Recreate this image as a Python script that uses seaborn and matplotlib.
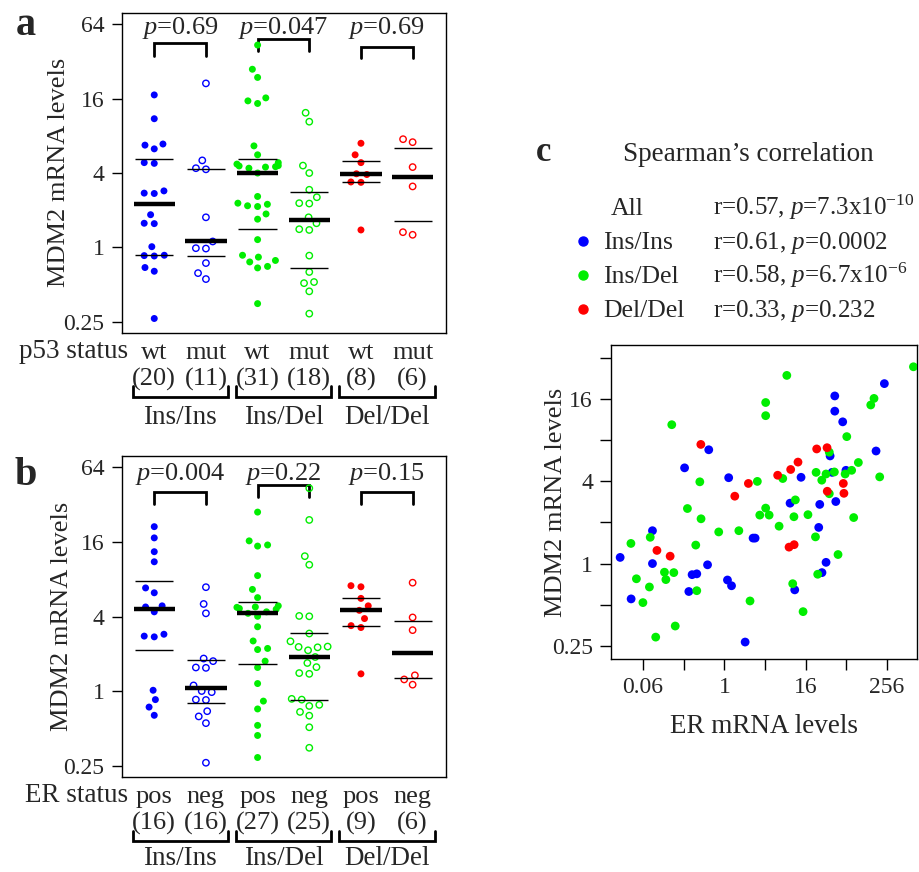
import numpy as np
import pandas as pd
import matplotlib
matplotlib.use("Agg")
import matplotlib.pyplot as plt
from matplotlib.lines import Line2D
from matplotlib.ticker import NullLocator
import seaborn as sns

# ---- panel a: MDM2 mRNA levels (log2) by genotype and p53 status ----
a_insins_wt = [4.10, 3.46, 2.78, 2.75, 2.65, 2.28, 2.26, 1.52, 1.46, 1.45,
               0.88, 0.64, 0.65, 0.02, -0.22, -0.23, -0.21, -0.54, -0.64, -1.91]
a_insins_mut = [4.41, 2.34, 2.13, 2.10, 0.81, 0.16, -0.02, -0.03, -0.42, -0.69, -0.85]
a_insdel_wt = [5.44, 4.79, 4.57, 4.02, 3.94, 3.87, 2.73, 2.49,
               2.28, 2.24, 2.19, 2.20, 2.17, 2.16, 2.13, 2.00,
               1.37, 1.19, 1.16, 1.12, 1.10, 0.90, 0.76, 0.21,
               -0.21, -0.26, -0.35, -0.39, -0.51, -0.55, -1.51]
a_insdel_mut = [3.62, 3.38, 2.20, 2.00, 1.55, 1.35, 1.19, 1.18, 0.81,
                0.65, 0.49, 0.47, -0.22, -0.66, -0.93, -0.96, -1.18, -1.78]
a_deldel_wt = [2.80, 2.49, 2.28, 1.98, 1.96, 1.75, 1.76, 0.47]
a_deldel_mut = [2.91, 2.83, 2.16, 1.64, 0.41, 0.34]
a_status = ["wt", "mut"]
a_pvalues = ["0.69", "0.047", "0.69"]

# ---- panel b: MDM2 mRNA levels (log2) by genotype and ER status ----
b_insins_pos = [4.41, 4.11, 3.74, 3.47, 2.77, 2.64, 2.29, 2.26, 2.13, 1.53,
                1.48, 1.46, 0.03, -0.22, -0.42, -0.64]
b_insins_neg = [2.79, 2.34, 2.09, 0.88, 0.81, 0.64, 0.63, 0.16, 0.01, -0.02,
                -0.22, -0.23, -0.53, -0.67, -0.85, -1.91]
b_insdel_pos = [4.80, 4.03, 3.92, 3.89, 3.10, 2.73, 2.51,
                2.29, 2.26, 2.25, 2.22, 2.20, 2.13, 2.09, 2.01,
                1.73, 1.35, 1.15, 1.12, 0.81, 0.64, 0.21, -0.26, -0.47, -0.91, -1.18, -1.77]
b_insdel_neg = [5.44, 4.59, 3.62, 3.39, 2.01, 2.02, 1.55, 1.34,
                1.19, 1.20, 1.18, 1.10, 0.92, 0.76, 0.65, 0.49, 0.47,
                -0.20, -0.22, -0.36, -0.39, -0.55, -0.65, -0.96, -1.51]
b_deldel_pos = [2.83, 2.80, 2.49, 2.29, 2.17, 1.95, 1.76, 1.71, 0.47]
b_deldel_neg = [2.91, 1.98, 1.64, 0.43, 0.32, 0.18]
b_status = ["pos", "neg"]
b_pvalues = ["0.004", "0.22", "0.15"]

# ---- panel c: ER vs MDM2 mRNA levels (log2) ----
c_insins_er = [-5.13, -4.59, -3.54, -3.54, -1.96, -1.75, -1.59, -1.36, -0.83, -0.77,
               0.15, 0.21, 0.35, 1.02, 1.41, 1.51, 3.23, 3.46, 3.77, 4.64,
               4.69, 4.80, 5.00, 5.20, 5.30, 5.43, 5.43, 5.48, 5.82, 5.98, 7.46, 7.87]
c_insins_mdm2 = [0.15, -0.86, 0.80, 0.00, 2.33, -0.68, -0.27, -0.25, -0.03, 2.77,
                 -0.40, 2.09, -0.54, -1.91, 0.62, 0.62, 1.47, -0.64, 2.10, 0.88,
                 1.44, -0.22, 0.03, 2.62, 2.22, 4.08, 3.71, 1.51, 3.45, 2.27, 2.74, 4.38]
c_insdel_er = [-4.60, -4.33, -4.01, -3.69, -3.65, -3.38, -2.95, -2.88, -2.59, -2.49,
               -2.42, -1.82, -1.41, -1.36, -1.21, -1.15, -0.28, 0.71, 1.26, 1.62,
               1.74, 2.03, 2.03, 2.03, 2.20, 2.69, 2.87, 3.07, 3.36, 3.42,
               3.49, 3.87, 4.11, 4.48, 4.51, 4.59, 4.79, 5.00, 5.16, 5.16,
               5.41, 5.59, 5.94, 6.02, 6.26, 6.36, 6.59, 7.20, 7.36, 7.64, 9.30]
c_insdel_mdm2 = [0.49, -0.37, -0.95, -0.57, 0.64, -1.79, -0.21, -0.39, 3.38, -0.22,
                 -1.52, 1.34, 0.45, -0.66, 1.99, 1.09, 0.77, 0.80, -0.91, 2.00,
                 1.18, 3.92, 3.60, 1.35, 1.18, 0.91, 2.07, 4.58, -0.49, 1.14,
                 1.55, -1.17, 1.19, 0.65, 2.22, -0.26, 2.03, 2.18, 2.71, 1.70,
                 2.23, 0.22, 2.18, 3.09, 2.27, 1.12, 2.46, 3.86, 4.02, 2.11, 4.79]
c_deldel_er = [-3.32, -2.67, -1.16, 0.51, 1.18, 2.62, 3.18, 3.43, 3.26, 3.62,
               4.54, 5.05, 5.06, 5.85, 5.88]
c_deldel_mdm2 = [0.32, 0.18, 2.90, 1.64, 1.95, 2.15, 0.40, 0.46, 2.29, 2.47,
                 2.79, 2.82, 1.76, 1.95, 1.71]
c_rows = ["All", "Ins/Ins", "Ins/Del", "Del/Del"]
c_stats = ["r=0.57, $p$=7.3x10$^{-10}$", "r=0.61, $p$=0.0002",
           "r=0.58, $p$=6.7x10$^{-6}$", "r=0.33, $p$=0.232"]

genotypes = ["Ins/Ins", "Ins/Del", "Del/Del"]
geno_colors = {"Ins/Ins": "#0000ff", "Ins/Del": "#00ee00", "Del/Del": "#ff0000"}

W, H = 919, 872
TXT = "#262626"

sns.set_style("ticks")
plt.rcParams.update({
    "font.family": ["Liberation Serif", "DejaVu Serif"],
    "mathtext.fontset": "custom",
    "mathtext.rm": "Liberation Serif",
    "mathtext.it": "Liberation Serif:italic",
    "text.color": TXT,
    "axes.edgecolor": "black",
    "axes.linewidth": 1.0,
    "xtick.color": "black",
    "ytick.color": "black",
    "xtick.labelcolor": TXT,
    "ytick.labelcolor": TXT,
})

fig = plt.figure(figsize=(W / 100, H / 100), dpi=100)
ax_a = fig.add_axes([121.7 / W, 1 - 333.0 / H, 324.0 / W, 320.3 / H])
ax_b = fig.add_axes([121.7 / W, 1 - 777.3 / H, 324.0 / W, 321.6 / H])
ax_c = fig.add_axes([611.0 / W, 1 - 659.3 / H, 306.3 / W, 314.3 / H])

positions = [1, 2, 3, 4, 5, 6]
swarms = []


def strip_panel(ax, series, status, pvals, status_title, p_text_y, brackets, ylab_x, geno_y):
    ax.set_yscale("log", base=2)
    ax.set_xlim(0.37, 6.64)
    ax.set_ylim(2 ** -2.3, 2 ** 6.31)
    for i, vals in enumerate(series):
        pos = positions[i]
        color = geno_colors[genotypes[i // 2]]
        sns.swarmplot(x=np.full(len(vals), float(pos)), y=np.exp2(vals), native_scale=True,
                      orient="x", color=color, size=6.9, linewidth=0, ax=ax, zorder=3)
        swarms.append((ax.collections[-1], color, i % 2 == 0))
        q1, med, q3 = np.quantile(vals, [0.25, 0.5, 0.75])
        ax.hlines(np.exp2(med), pos - 0.4, pos + 0.4, color="black", lw=3.2, zorder=4)
        ax.hlines(np.exp2([q1, q3]), pos - 0.37, pos + 0.37, color="black", lw=1.0, zorder=4)

    ax.set_xlim(0.37, 6.64)
    ax.set_ylim(2 ** -2.3, 2 ** 6.31)
    ax.set_xlabel("")
    ax.set_yticks([0.25, 1, 4, 16, 64], ["0.25", "1", "4", "16", "64"])
    ax.yaxis.set_minor_locator(NullLocator())
    ax.tick_params(axis="y", direction="out", length=7.5, width=1.0, pad=5, labelsize=17)
    counts = [len(v) for v in series]
    ax.set_xticks(positions, [f"{status[i % 2]}\n({n})" for i, n in enumerate(counts)])
    ax.tick_params(axis="x", length=0, pad=6.5, labelsize=19)
    for t in ax.get_xticklabels():
        t.set_linespacing(1.22)
    for s in ax.spines.values():
        s.set_visible(True)
        s.set_linewidth(1.0)
    ax.set_ylabel("MDM2 mRNA levels", fontsize=19, va="center")
    ax.yaxis.set_label_coords(ylab_x, 0.5)

    ax.text(0.02, -0.058, status_title, transform=ax.transAxes, ha="right", va="center",
            fontsize=19.5)

    trans = ax.get_xaxis_transform()
    for g in range(3):
        left, right = positions[2 * g], positions[2 * g + 1]
        # group bracket under the labels
        ax.plot([left - 0.42, left - 0.42, right + 0.43, right + 0.43],
                [-0.166, -0.199, -0.199, -0.166], transform=trans, clip_on=False,
                color="black", lw=2.0, solid_joinstyle="miter")
        ax.text((left + right) / 2, geno_y, genotypes[g], transform=trans,
                ha="center", va="center", fontsize=19.5)
        # p-value bracket
        top, leg = brackets[g]
        ax.plot([left, left, right, right], [leg, top, top, leg], transform=trans,
                color="black", lw=2.0, zorder=2, solid_joinstyle="miter")
        ax.text((left + right) / 2, p_text_y, f"$p$={pvals[g]}", transform=trans,
                ha="center", va="center", fontsize=19, zorder=5)


strip_panel(ax_a, [a_insins_wt, a_insins_mut, a_insdel_wt, a_insdel_mut, a_deldel_wt, a_deldel_mut],
            a_status, a_pvalues, "p53 status", 0.952,
            [(0.904, 0.865), (0.917, 0.880), (0.894, 0.858)], -0.192, -0.265)
strip_panel(ax_b, [b_insins_pos, b_insins_neg, b_insdel_pos, b_insdel_neg, b_deldel_pos, b_deldel_neg],
            b_status, b_pvalues, "ER status", 0.943,
            [(0.888, 0.850), (0.909, 0.871), (0.888, 0.850)], -0.184, -0.254)

# ---- panel c scatter ----
dfc = pd.concat([
    pd.DataFrame({"er": np.exp2(c_insins_er), "mdm2": np.exp2(c_insins_mdm2), "genotype": "Ins/Ins"}),
    pd.DataFrame({"er": np.exp2(c_insdel_er), "mdm2": np.exp2(c_insdel_mdm2), "genotype": "Ins/Del"}),
    pd.DataFrame({"er": np.exp2(c_deldel_er), "mdm2": np.exp2(c_deldel_mdm2), "genotype": "Del/Del"}),
], ignore_index=True)
ax_c.set_xscale("log", base=2)
ax_c.set_yscale("log", base=2)
sns.scatterplot(data=dfc, x="er", y="mdm2", hue="genotype", palette=geno_colors, s=40,
                linewidth=0, legend=False, ax=ax_c, zorder=3)
ax_c.set_xlim(2 ** -5.58, 2 ** 9.49)
ax_c.set_ylim(2 ** -2.33, 2 ** 5.32)
ax_c.set_xticks(np.exp2(np.arange(-4, 9, 2)), ["0.06", "", "1", "", "16", "", "256"])
ax_c.set_yticks(np.exp2(np.arange(-2, 6)), ["0.25", "", "1", "", "4", "", "16", ""])
ax_c.xaxis.set_minor_locator(NullLocator())
ax_c.yaxis.set_minor_locator(NullLocator())
ax_c.tick_params(direction="out", length=8, width=1.0, pad=5, labelsize=17)
for s in ax_c.spines.values():
    s.set_visible(True)
    s.set_linewidth(1.0)
ax_c.set_xlabel("ER mRNA levels", fontsize=19.5, va="center")
ax_c.xaxis.set_label_coords(0.5, -0.215)
ax_c.set_ylabel("MDM2 mRNA levels", fontsize=19, va="center")
ax_c.yaxis.set_label_coords(-0.178, 0.5)


def fxy(x, y):
    return x / W, 1 - y / H


# panel letters and panel c header / legend
fig.text(*fxy(16, 35), "a", fontsize=29, fontweight="bold", ha="left", va="baseline")
fig.text(*fxy(15, 485), "b", fontsize=29, fontweight="bold", ha="left", va="baseline")
fig.text(*fxy(536, 161), "c", fontsize=25, fontweight="bold", ha="left", va="baseline")
fig.text(*fxy(623, 161), "Spearman\u2019s correlation", fontsize=19.5, ha="left", va="baseline")

row_y = [215, 249, 283, 317]
for k, (name, stat) in enumerate(zip(c_rows, c_stats)):
    x_name = 611 if name == "All" else 603
    fig.text(*fxy(x_name, row_y[k]), name, fontsize=18.5, ha="left", va="baseline")
    fig.text(*fxy(713, row_y[k]), stat, fontsize=18, ha="left", va="baseline")
    if name in geno_colors:
        fig.add_artist(Line2D([583 / W], [1 - (row_y[k] - 8) / H], marker="o", ms=6.5,
                              linestyle="none", color=geno_colors[name],
                              transform=fig.transFigure))

# let seaborn lay out the swarms, then keep them and restyle the dots
fig.canvas.draw()
for coll, color, filled in swarms:
    coll.__dict__.pop("draw", None)
    if filled:
        coll.set_sizes([5.0 ** 2])
        coll.set_facecolor(color)
        coll.set_edgecolor("none")
    else:
        coll.set_sizes([4.6 ** 2])
        coll.set_facecolor("none")
        coll.set_edgecolor(color)
        coll.set_linewidth(1.0)

fig.savefig("out.png", dpi=100)
